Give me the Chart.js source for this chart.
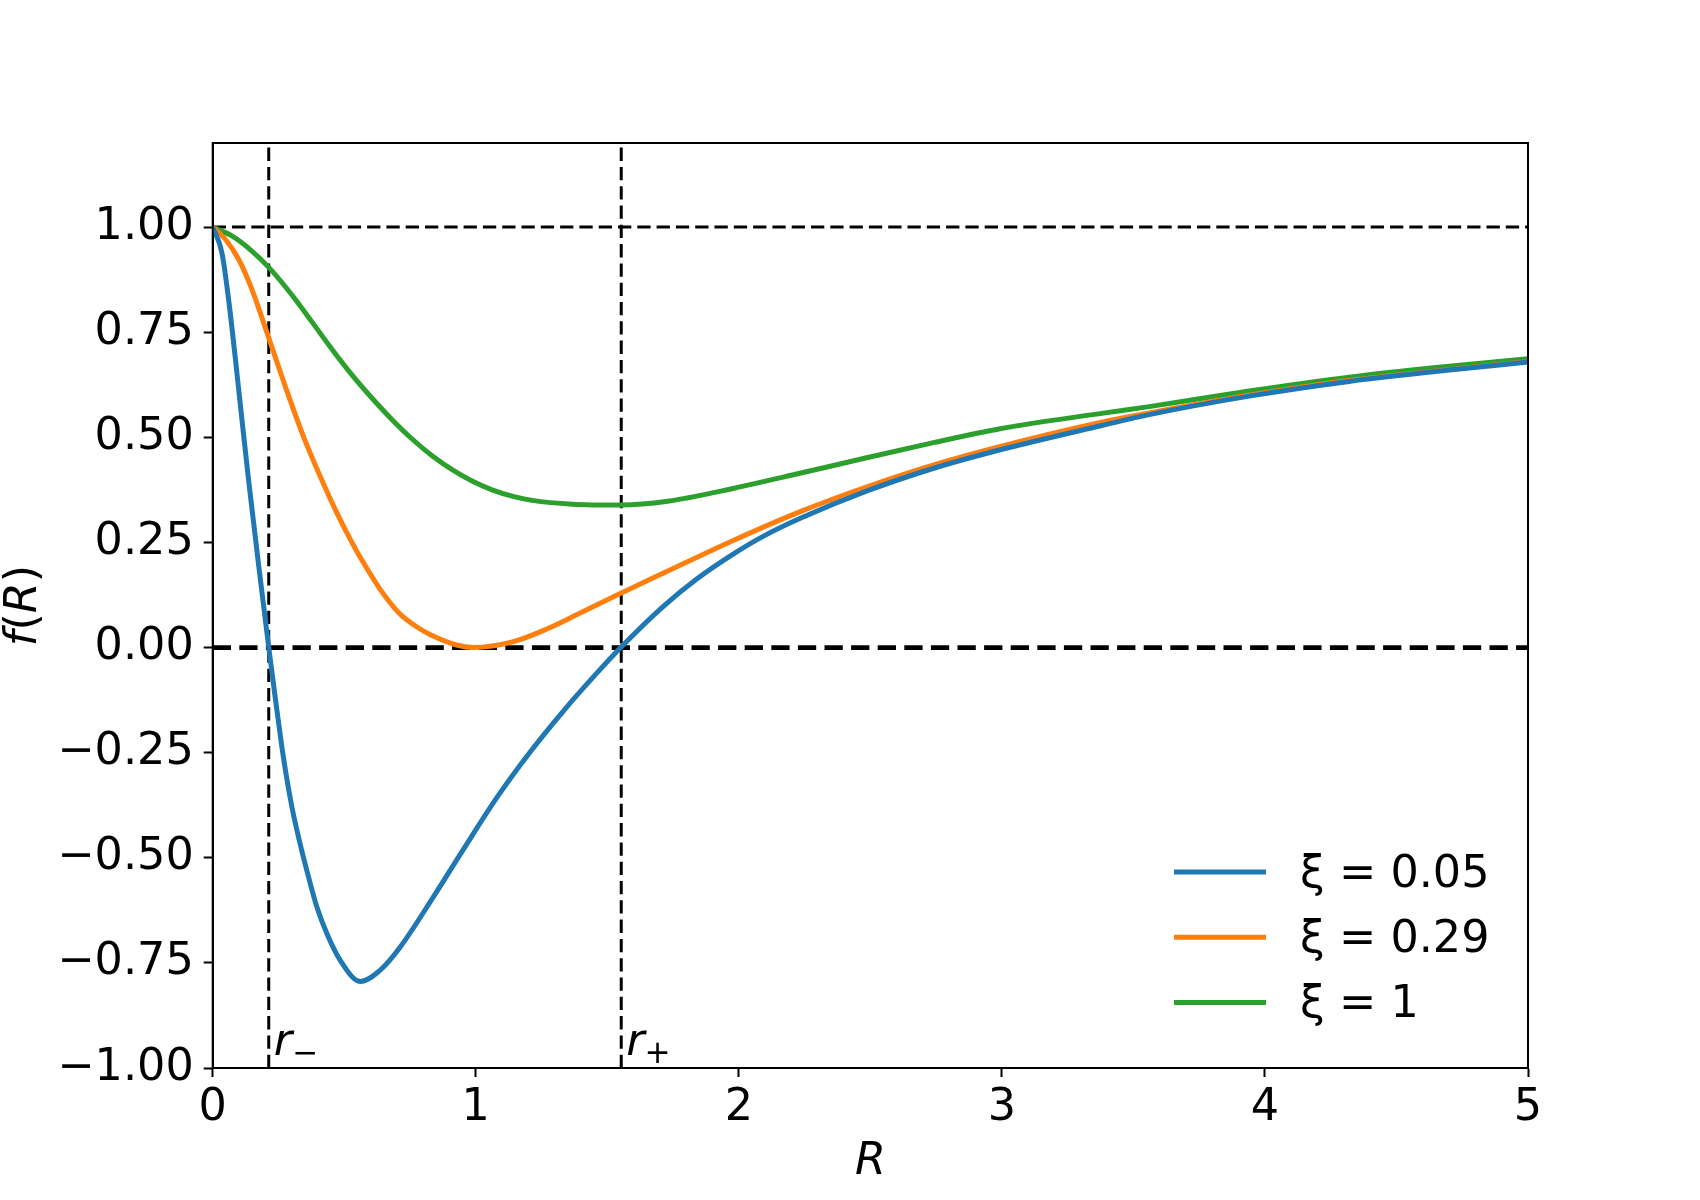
<!DOCTYPE html>
<html>
<head>
<meta charset="utf-8">
<script src="https://cdn.jsdelivr.net/npm/chart.js@4.4.1/dist/chart.umd.min.js"></script>
<style>
  body { margin: 0; background: #fff; }
  canvas { display: block; }
</style>
</head>
<body>
<canvas id="fChart" width="1700" height="1200"></canvas>
<script>
// values
const xi005R = [0, 0.035, 0.061, 0.086, 0.111, 0.137, 0.175, 0.213, 0.239, 0.269, 0.301, 0.332, 0.364, 0.396, 0.434, 0.485, 0.561, 0.637, 0.713, 0.839, 0.953, 1.08, 1.206, 1.333, 1.46, 1.551, 1.713, 1.84, 1.983, 2.094, 2.236, 2.49, 2.744, 2.998, 3.379, 3.56, 3.94, 4.32, 4.70, 5.0];
const xi005F = [1, 0.939, 0.825, 0.688, 0.543, 0.395, 0.194, 0, -0.125, -0.262, -0.379, -0.466, -0.545, -0.617, -0.68, -0.744, -0.794, -0.767, -0.712, -0.593, -0.48, -0.357, -0.249, -0.151, -0.061, 0, 0.098, 0.163, 0.224, 0.265, 0.308, 0.373, 0.427, 0.471, 0.528, 0.554, 0.598, 0.633, 0.66, 0.679];

const xi029R = [0, 0.048, 0.099, 0.149, 0.215, 0.276, 0.34, 0.403, 0.466, 0.53, 0.568, 0.636, 0.707, 0.781, 0.826, 0.927, 0.99, 1.143, 1.27, 1.397, 1.551, 1.713, 1.983, 2.236, 2.49, 2.744, 2.998, 3.379, 3.56, 3.94, 4.32, 4.70, 5.0];
const xi029F = [1, 0.971, 0.923, 0.852, 0.733, 0.621, 0.51, 0.415, 0.328, 0.249, 0.207, 0.139, 0.083, 0.047, 0.031, 0.006, 0, 0.014, 0.044, 0.082, 0.129, 0.177, 0.256, 0.324, 0.383, 0.435, 0.479, 0.536, 0.558, 0.60, 0.635, 0.661, 0.680];

const xi1R = [0, 0.073, 0.149, 0.215, 0.302, 0.378, 0.454, 0.53, 0.606, 0.682, 0.758, 0.834, 0.91, 0.986, 1.062, 1.138, 1.214, 1.366, 1.551, 1.729, 1.983, 2.236, 2.49, 2.744, 2.998, 3.379, 3.56, 3.94, 4.32, 4.70, 5.0];
const xi1F = [1, 0.979, 0.943, 0.903, 0.838, 0.774, 0.709, 0.648, 0.593, 0.542, 0.496, 0.456, 0.423, 0.396, 0.375, 0.36, 0.35, 0.341, 0.339, 0.348, 0.379, 0.415, 0.452, 0.488, 0.521, 0.557, 0.573, 0.61, 0.643, 0.669, 0.687];

const xiLabels = ['ξ = 0.05', 'ξ = 0.29', 'ξ = 1'];
const horizonR = [0.213, 1.553];
const horizonSub = ['\u2212', '+'];
const xTicks = [0, 1, 2, 3, 4, 5];
const yTicks = [-1, -0.75, -0.5, -0.25, 0, 0.25, 0.5, 0.75, 1];

const FONT = '"DejaVu Sans", "Liberation Sans", sans-serif';
const FS = 44.5;

function toPoints(rs, fs) {
  return rs.map((r, i) => ({ x: r, y: fs[i] }));
}

function curve(label, rs, fs, color) {
  return {
    label: label,
    data: toPoints(rs, fs),
    borderColor: color,
    backgroundColor: color,
    borderWidth: 5,
    pointRadius: 0,
    cubicInterpolationMode: 'monotone',
    order: 1
  };
}

function refLine(points, width, dash) {
  return {
    label: '',
    data: points,
    borderColor: '#000',
    borderWidth: width,
    borderDash: dash,
    pointRadius: 0,
    tension: 0,
    order: 5
  };
}

// frame, axis titles, r-/r+ labels and the legend
const decorations = {
  id: 'decorations',
  afterDatasetsDraw(chart) {
    const { ctx, chartArea: a, scales: { x } } = chart;
    ctx.save();
    ctx.strokeStyle = '#000';
    ctx.lineWidth = 2;
    ctx.setLineDash([]);
    ctx.strokeRect(a.left, a.top, a.right - a.left, a.bottom - a.top);

    ctx.fillStyle = '#000';
    ctx.textAlign = 'left';
    ctx.textBaseline = 'alphabetic';
    horizonR.forEach((r, i) => {
      const px = x.getPixelForValue(r);
      ctx.font = 'italic ' + FS + 'px ' + FONT;
      ctx.fillText('r', px + 5, a.bottom - 13);
      const w = ctx.measureText('r').width;
      ctx.font = (FS * 0.7) + 'px ' + FONT;
      ctx.fillText(horizonSub[i], px + 5 + w, a.bottom - 5);
    });

    // x title
    ctx.font = 'italic ' + FS + 'px ' + FONT;
    ctx.textAlign = 'center';
    ctx.fillText('R', (a.left + a.right) / 2, 1174);

    // y title f(R), mixed italic / upright
    const parts = [['f', 'italic'], ['(', 'normal'], ['R', 'italic'], [')', 'normal']];
    let total = 0;
    parts.forEach(p => { ctx.font = p[1] + ' ' + FS + 'px ' + FONT; total += ctx.measureText(p[0]).width; });
    ctx.translate(36, (a.top + a.bottom) / 2 + total / 2);
    ctx.rotate(-Math.PI / 2);
    ctx.textAlign = 'left';
    let off = 0;
    parts.forEach(p => {
      ctx.font = p[1] + ' ' + FS + 'px ' + FONT;
      ctx.fillText(p[0], off, 0);
      off += ctx.measureText(p[0]).width;
    });
    ctx.restore();

    // legend
    ctx.save();
    const rows = chart.data.datasets.filter(d => d.label);
    rows.forEach((d, i) => {
      const yy = a.bottom - 196 + i * 65.3;
      ctx.strokeStyle = d.borderColor;
      ctx.lineWidth = 5;
      ctx.beginPath();
      ctx.moveTo(a.right - 354, yy);
      ctx.lineTo(a.right - 262, yy);
      ctx.stroke();
      ctx.fillStyle = '#000';
      ctx.font = FS + 'px ' + FONT;
      ctx.textAlign = 'left';
      ctx.textBaseline = 'middle';
      ctx.fillText(d.label, a.right - 228, yy + 3);
    });
    ctx.restore();
  }
};

const tickFont = { family: FONT, size: FS };

new Chart(document.getElementById('fChart'), {
  type: 'line',
  data: {
    datasets: [
      curve(xiLabels[0], xi005R, xi005F, '#1f77b4'),
      curve(xiLabels[1], xi029R, xi029F, '#ff7f0e'),
      curve(xiLabels[2], xi1R, xi1F, '#2ca02c'),
      refLine([{ x: 0, y: 1 }, { x: 5, y: 1 }], 3, [13.3, 6]),
      refLine([{ x: 0, y: 0 }, { x: 5, y: 0 }], 4.7, [18.3, 8.3]),
      refLine([{ x: horizonR[0], y: -1 }, { x: horizonR[0], y: 1.2 }], 3, [13.3, 6]),
      refLine([{ x: horizonR[1], y: -1 }, { x: horizonR[1], y: 1.2 }], 3, [13.3, 6])
    ]
  },
  options: {
    responsive: false,
    devicePixelRatio: 1,
    animation: false,
    layout: { padding: { left: 0, right: 172, top: 143, bottom: 0 } },
    plugins: {
      legend: { display: false },
      tooltip: { enabled: false }
    },
    scales: {
      x: {
        type: 'linear',
        min: 0,
        max: 5,
        afterBuildTicks: s => { s.ticks = xTicks.map(v => ({ value: v })); },
        afterFit: s => { s.height = 132; },
        grid: { display: true, drawOnChartArea: false, drawTicks: true, tickLength: 9, tickWidth: 2, color: '#000' },
        border: { display: true, color: '#000', width: 2 },
        ticks: { color: '#000', font: tickFont, padding: 5, maxRotation: 0, autoSkip: false, callback: v => String(v) }
      },
      y: {
        type: 'linear',
        min: -1,
        max: 1.2,
        afterBuildTicks: s => { s.ticks = yTicks.map(v => ({ value: v })); },
        afterFit: s => { s.width = 212.7; },
        grid: { display: true, drawOnChartArea: false, drawTicks: true, tickLength: 9, tickWidth: 2, color: '#000' },
        border: { display: true, color: '#000', width: 2 },
        ticks: { color: '#000', font: tickFont, padding: 10, autoSkip: false, callback: v => v.toFixed(2).replace('-', '\u2212') }
      }
    }
  },
  plugins: [decorations]
});
</script>
</body>
</html>
